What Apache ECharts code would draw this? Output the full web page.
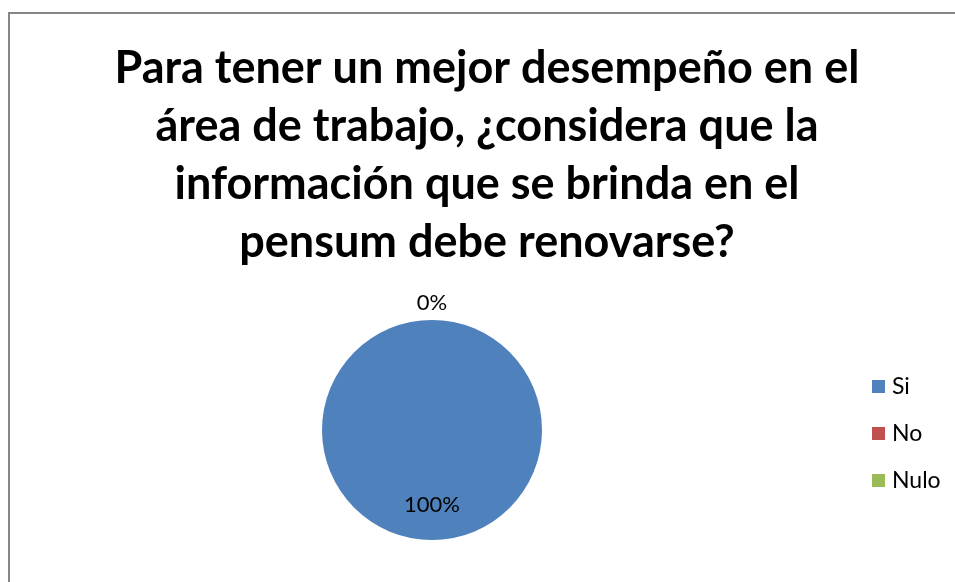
<!DOCTYPE html>
<html>
<head>
<meta charset="utf-8">
<script src="https://cdn.jsdelivr.net/npm/echarts@6/dist/echarts.min.js"></script>
<style>
  html, body { margin: 0; padding: 0; background: #fff; }
  #frame { position: absolute; left: 8px; top: 12px; width: 960px; height: 580px;
           border-left: 2px solid #868686; border-top: 2px solid #868686; }
  #chart { position: absolute; left: 0; top: 0; width: 955px; height: 582px; }
</style>
</head>
<body>
<div id="frame"></div>
<div id="chart"></div>
<script>
// datos de la encuesta
var categorias = ['Si', 'No', 'Nulo'];
var valores = [100, 0, 0];
var colores = ['#4F81BD', '#C0504D', '#9BBB59'];
var titulo = 'Para tener un mejor desempeño en el\nárea de trabajo, ¿considera que la\ninformación que se brinda en el\npensum debe renovarse?';

var myChart = echarts.init(document.getElementById('chart'));

var datos = categorias.map(function (c, i) {
  var d = { name: c, value: valores[i], itemStyle: { color: colores[i] } };
  if (i === 0) {
    d.label = { position: 'inside' };
  } else if (i === 1) {
    d.label = { position: 'outside' };
  } else {
    d.label = { show: false };
  }
  return d;
});

var option = {
  animation: false,
  title: {
    text: titulo,
    left: 487,
    top: 39,
    textAlign: 'center',
    padding: 0,
    textStyle: {
      fontFamily: 'Lato',
      fontWeight: 'bold',
      fontSize: 45,
      lineHeight: 58,
      color: '#000'
    }
  },
  legend: {
    orient: 'vertical',
    left: 867,
    top: 370,
    itemWidth: 13,
    itemHeight: 13,
    itemGap: 24,
    icon: 'rect',
    data: categorias,
    textStyle: { fontFamily: 'Lato', fontSize: 23, color: '#000', padding: [0, 0, 0, 2] }
  },
  series: [
    {
      type: 'pie',
      center: [432, 430],
      radius: 110,
      startAngle: 90,
      clockwise: true,
      avoidLabelOverlap: false,
      minShowLabelAngle: 0,
      label: {
        show: true,
        formatter: '{d}%',
        fontFamily: 'Lato',
        fontSize: 22,
        color: '#000'
      },
      labelLine: { show: false, length: 0, length2: 0 },
      labelLayout: function (p) {
        return p.dataIndex === 0 ? { dy: 17 } : { align: 'center', dx: -5, dy: -17 };
      },
      emphasis: { disabled: true },
      data: datos
    }
  ]
};
myChart.setOption(option);
</script>
</body>
</html>
